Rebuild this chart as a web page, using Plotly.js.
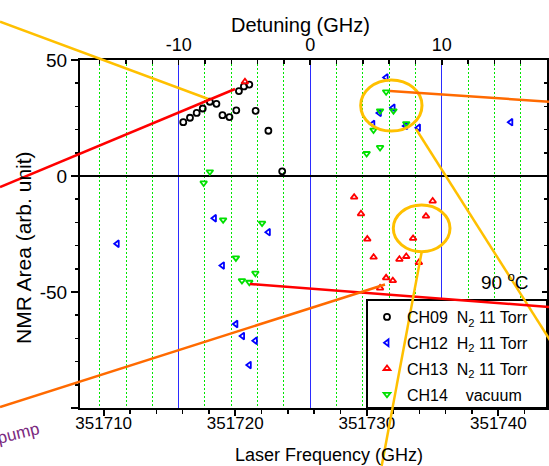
<!DOCTYPE html>
<html>
<head>
<meta charset="utf-8">
<script src="https://cdn.plot.ly/plotly-3.0.1.min.js"></script>
<style>html,body{margin:0;padding:0;background:#fff;}#chart{width:549px;height:466px;}</style>
</head>
<body>
<div id="chart"></div>
<script>
// ---------------- data ----------------
const ch09Freq = [351716.05, 351716.56, 351717.07, 351717.53, 351718.07, 351718.57, 351719.03, 351719.56, 351720.08, 351720.28, 351720.66, 351721.07, 351721.55, 351722.52, 351723.57];
const ch09Area = [23.2, 25.1, 27.2, 29.1, 32.0, 31.1, 26.2, 25.4, 28.3, 36.6, 38.6, 39.4, 28.1, 19.5, 2.0];

const ch12Freq = [351711.03, 351718.42, 351719.03, 351720.05, 351720.56, 351721.07, 351721.53, 351722.52, 351730.46, 351730.96, 351731.47, 351732.0, 351732.96, 351733.93, 351740.95];
const ch12Area = [-29.2, -18.2, -38.6, -63.8, -69.0, -81.5, -71.0, -24.2, 22.4, 27.2, 42.5, 29.4, 21.6, 20.8, 23.2];

const ch13Freq = [351720.74, 351729.04, 351729.56, 351730.04, 351730.52, 351731.01, 351731.47, 351731.98, 351732.48, 351733.0, 351733.52, 351733.96, 351734.50, 351735.01];
const ch13Area = [40.6, -9.1, -16.3, -27.2, -35.0, -48.3, -43.9, -45.1, -35.9, -34.7, -26.9, -37.3, -17.3, -10.8];

const ch14Freq = [351717.6, 351718.07, 351719.08, 351720.05, 351720.51, 351721.07, 351721.53, 351722.04, 351729.99, 351730.51, 351731.01, 351731.01, 351731.47, 351732.03, 351733.0];
const ch14Area = [-3.0, 1.8, -18.9, -35.3, -45.1, -45.8, -41.9, -20.3, 9.7, 19.8, 12.3, 28.1, 36.3, 28.1, 22.6];

const seriesNames = [
  'CH09\u00a0\u00a0N<sub>2</sub> 11 Torr',
  'CH12\u00a0\u00a0H<sub>2</sub> 11 Torr',
  'CH13\u00a0\u00a0N<sub>2</sub> 11 Torr',
  'CH14\u00a0\u00a0\u00a0\u00a0vacuum'
];
const detuningZero = 351725.7;           // laser frequency at 0 GHz detuning
const freqRange = [351708.2, 351743.7];
const areaRange = [-100, 50];
const areaTicks = [-100, -50, 0, 50];
const areaTickText = ['', '-50', '0', '50'];
const detTicks = [-10, 0, 10];
const detTickText = ['-10', '0', '10'];

// ---------------- layout geometry ----------------
const W = 549, H = 466, ML = 80, MR = 2, MT = 60, MB = 58;
const PW = W - ML - MR, PH = H - MT - MB;
const px = X => (X - ML) / PW;
const py = Y => (H - MB - Y) / PH;

const SANS = 'Liberation Sans, Arial, sans-serif';

function mk(x, y, name, symbol, color, group) {
  return {
    type: 'scatter', mode: 'markers', x: x, y: y, name: name,
    xaxis: 'x', yaxis: 'y', legendgroup: group,
    marker: {symbol: symbol, size: 6, color: color, line: {color: color, width: 1.8}},
    cliponaxis: true, hoverinfo: 'skip'
  };
}
const traces = [
  mk(ch09Freq, ch09Area, seriesNames[0], 'circle-open', '#000000', 'a'),
  mk(ch12Freq, ch12Area, seriesNames[1], 'triangle-left-open', '#0000ff', 'b'),
  mk(ch13Freq, ch13Area, seriesNames[2], 'triangle-up-open', '#ff0000', 'c'),
  mk(ch14Freq, ch14Area, seriesNames[3], 'triangle-down-open', '#00e000', 'd')
];
// invisible carriers so the detuning (top) axis and the mirrored right axis are drawn
traces.unshift({type: 'scatter', mode: 'markers', x: ch14Freq.map(f => f - detuningZero), y: ch14Area,
  xaxis: 'x2', yaxis: 'y', showlegend: false, hoverinfo: 'skip', marker: {opacity: 0, size: 1}});
traces.unshift({type: 'scatter', mode: 'markers', x: ch14Freq, y: ch14Area,
  xaxis: 'x', yaxis: 'y2', showlegend: false, hoverinfo: 'skip', marker: {opacity: 0, size: 1}});

// ---------------- decorative overlays (annotation drawings on the figure) ----------------
const YEL = '#ffc000', ORG = '#ff6a00', RED = '#ff0000';
const overlayLines = [
  [0, 21.7, 208.3, 99, YEL],
  [0, 187, 235, 89, RED],
  [390, 91, 549, 101.7, ORG],
  [416, 129, 560, 356, YEL],
  [250, 284, 549, 307, RED],
  [0, 407, 385, 284.5, ORG],
  [421.7, 251.7, 380, 475, YEL]
];
const overlayEllipses = [
  [360.7, 80, 422, 131],
  [393.3, 205, 450, 251.7]
];

const shapes = [];
shapes.push({type: 'rect', xref: 'paper', yref: 'paper', layer: 'above',
  x0: px(367), x1: px(547), y0: py(408), y1: py(300),
  fillcolor: '#ffffff', line: {color: '#000', width: 2}});
overlayEllipses.forEach(e => shapes.push({type: 'circle', xref: 'paper', yref: 'paper', layer: 'above',
  x0: px(e[0]), x1: px(e[2]), y0: py(e[3]), y1: py(e[1]), line: {color: YEL, width: 3}}));
overlayLines.forEach(l => shapes.push({type: 'line', xref: 'paper', yref: 'paper', layer: 'above',
  x0: px(l[0]), y0: py(l[1]), x1: px(l[2]), y1: py(l[3]), line: {color: l[4], width: 2.5}}));

const annotations = [
  {text: 'Detuning (GHz)', xref: 'paper', yref: 'paper', x: px(300.5), y: py(25), xanchor: 'center', yanchor: 'middle',
   showarrow: false, font: {family: SANS, size: 20, color: '#000'}},
  {text: 'Laser Frequency (GHz)', xref: 'paper', yref: 'paper', x: px(329), y: py(455), xanchor: 'center', yanchor: 'middle',
   showarrow: false, font: {family: SANS, size: 18, color: '#000'}},
  {text: 'NMR Area (arb. unit)', xref: 'paper', yref: 'paper', x: px(23), y: py(248), xanchor: 'center', yanchor: 'middle',
   textangle: -90, showarrow: false, font: {family: SANS, size: 21, color: '#000'}},
  {text: '90 <sup>o</sup>C', xref: 'paper', yref: 'paper', x: px(505), y: py(281), xanchor: 'center', yanchor: 'middle',
   showarrow: false, font: {family: SANS, size: 19, color: '#000'}},
  {text: 'pump', xref: 'paper', yref: 'paper', x: px(18), y: py(433), xanchor: 'center', yanchor: 'middle',
   textangle: -14, showarrow: false, font: {family: SANS, size: 17, color: '#7b2a80'}}
];

const layout = {
  width: W, height: H,
  margin: {l: ML, r: MR, t: MT, b: MB, autoexpand: false},
  paper_bgcolor: '#ffffff', plot_bgcolor: '#ffffff',
  font: {family: SANS, color: '#000'},
  showlegend: true,
  legend: {x: px(367), y: py(300), xanchor: 'left', yanchor: 'top', bgcolor: 'rgba(0,0,0,0)',
    borderwidth: 0, font: {family: SANS, size: 16, color: '#000'}, traceorder: 'grouped', tracegroupgap: 2},
  xaxis: {
    range: freqRange, showline: true, linecolor: '#000', linewidth: 2,
    ticks: 'outside', ticklen: 6, tickwidth: 2, tickcolor: '#000',
    tick0: 351710, dtick: 10, tickformat: 'd', showgrid: false, zeroline: false,
    ticklabelstandoff: -7,
    tickfont: {family: SANS, size: 17, color: '#000'},
    minor: {tick0: 351710, dtick: 2, ticks: 'outside', ticklen: 4, tickwidth: 1.5, tickcolor: '#000', showgrid: false}
  },
  xaxis2: {
    overlaying: 'x', side: 'top', anchor: 'y',
    range: [freqRange[0] - detuningZero, freqRange[1] - detuningZero],
    tickmode: 'array', tickvals: detTicks, ticktext: detTickText,
    showgrid: true, gridcolor: '#2b2bff', gridwidth: 1.3,
    showline: true, linecolor: '#000', linewidth: 2,
    ticks: 'inside', ticklen: 5, tickwidth: 1.5, tickcolor: '#000', zeroline: false,
    tickfont: {family: SANS, size: 18, color: '#000'},
    minor: {tickmode: 'linear', tick0: 0, dtick: 2, ticks: 'inside', ticklen: 4, tickwidth: 1.5, tickcolor: '#000',
      showgrid: true, gridcolor: '#00e600', gridwidth: 1, griddash: '2px,2px'}
  },
  yaxis: {
    range: areaRange, tickmode: 'array', tickvals: areaTicks, ticktext: areaTickText,
    showline: true, linecolor: '#000', linewidth: 2,
    ticks: 'outside', ticklen: 7, tickwidth: 2, tickcolor: '#000',
    zeroline: true, zerolinecolor: '#000', zerolinewidth: 2, showgrid: false,
    tickfont: {family: SANS, size: 19, color: '#000'},
    minor: {tickmode: 'linear', tick0: 0, dtick: 10, ticks: 'outside', ticklen: 3, tickwidth: 1.5, tickcolor: '#000', showgrid: false}
  },
  yaxis2: {
    overlaying: 'y', side: 'right', anchor: 'x', range: areaRange,
    tickmode: 'array', tickvals: areaTicks, showticklabels: false,
    showline: true, linecolor: '#000', linewidth: 2,
    ticks: 'inside', ticklen: 5, tickwidth: 1.5, tickcolor: '#000', zeroline: false, showgrid: false,
    minor: {tickmode: 'linear', tick0: 0, dtick: 10, ticks: 'inside', ticklen: 3, tickwidth: 1.5, tickcolor: '#000', showgrid: false}
  },
  shapes: shapes,
  annotations: annotations
};

Plotly.newPlot('chart', traces, layout, {staticPlot: true, displayModeBar: false});
</script>
</body>
</html>
